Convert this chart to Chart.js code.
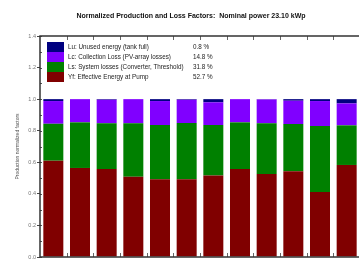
<!DOCTYPE html>
<html>
<head>
<meta charset="utf-8">
<script src="https://cdn.jsdelivr.net/npm/chart.js@4/dist/chart.umd.min.js"></script>
<style>
  html, body { margin: 0; padding: 0; background: #fff; overflow: hidden; }
  #caja { width: 380px; height: 290px; }
</style>
</head>
<body>
<div id="caja"><canvas id="factores-chart" width="380" height="290"></canvas></div>
<script>
// Meses del año
var meses = ["Jan", "Feb", "Mar", "Apr", "May", "Jun", "Jul", "Aug", "Sep", "Oct", "Nov", "Dec"];

// Factores normalizados por mes
var yf = [0.610, 0.564, 0.557, 0.509, 0.492, 0.492, 0.517, 0.557, 0.526, 0.543, 0.412, 0.583];
var ls = [0.234, 0.289, 0.290, 0.338, 0.344, 0.357, 0.319, 0.296, 0.321, 0.299, 0.418, 0.251];
var lc = [0.144, 0.147, 0.149, 0.153, 0.152, 0.147, 0.144, 0.147, 0.151, 0.148, 0.158, 0.139];
var lu = [0.012, 0.000, 0.004, 0.000, 0.012, 0.004, 0.020, 0.000, 0.002, 0.010, 0.012, 0.027];

// Textos de la leyenda y porcentajes anuales
var leyendaTextos = [
  "Lu: Unused energy (tank full)",
  "Lc: Collection Loss (PV-array losses)",
  "Ls: System losses (Converter, Threshold)",
  "Yf: Effective Energy at Pump"
];
var leyendaPorcentajes = ["0.8 %", "14.8 %", "31.8 %", "52.7 %"];
var leyendaColores = ["#000080", "#8000ff", "#008000", "#800000"];

var titulo = "Normalized Production and Loss Factors:  Nominal power 23.10 kWp";
var tituloEjeY = "Production normalized factors";
var ticksY = [0, 0.2, 0.4, 0.6, 0.8, 1.0, 1.2, 1.4];

var canvas = document.getElementById("factores-chart");
var ctx = canvas.getContext("2d");

// Dibuja marco, marcas menores, leyenda y título
var marcoPlugin = {
  id: "marco",
  afterDatasetsDraw: function (chart) {
    var c = chart.ctx;
    var a = chart.chartArea;
    var x = chart.scales.x;
    var y = chart.scales.y;
    c.save();

    // marcas menores del eje Y
    c.strokeStyle = "#555";
    c.lineWidth = 1;
    for (var k = 0; k <= 14; k++) {
      var py = Math.round(y.getPixelForValue(k / 10)) + 0.5;
      c.beginPath();
      c.moveTo(a.left, py);
      c.lineTo(a.left + 2, py);
      c.stroke();
    }

    // marcas entre meses (arriba y abajo)
    c.strokeStyle = "#666";
    for (var i = 1; i < meses.length; i++) {
      var px = Math.round((x.getPixelForValue(i - 1) + x.getPixelForValue(i)) / 2) + 0.5;
      c.beginPath();
      c.moveTo(px, a.bottom);
      c.lineTo(px, a.bottom - 4);
      c.moveTo(px, a.top);
      c.lineTo(px, a.top + 4);
      c.stroke();
    }

    // marco del gráfico
    c.strokeStyle = "#333";
    c.lineWidth = 1.5;
    c.strokeRect(a.left, a.top, a.right - a.left, a.bottom - a.top);

    // leyenda
    c.font = "6.3px 'Liberation Sans', Arial, sans-serif";
    c.textBaseline = "middle";
    c.textAlign = "left";
    for (var j = 0; j < leyendaTextos.length; j++) {
      var fy = 42 + j * 10;
      c.fillStyle = leyendaColores[j];
      c.fillRect(47, fy, 17, 10);
      c.fillStyle = "#222";
      c.fillText(leyendaTextos[j], 68, fy + 5.5);
      c.fillText(leyendaPorcentajes[j], 193, fy + 5.5);
    }

    // título
    c.font = "bold 7px 'Liberation Sans', Arial, sans-serif";
    c.textAlign = "center";
    c.fillStyle = "#111";
    c.fillText(titulo, 191, 16);
    c.restore();
  }
};

var data = {
  labels: meses,
  datasets: [
    { label: "Yf", data: yf, backgroundColor: "#800000" },
    { label: "Ls", data: ls, backgroundColor: "#008000" },
    { label: "Lc", data: lc, backgroundColor: "#8000ff" },
    { label: "Lu", data: lu, backgroundColor: "#000080" }
  ]
};

var options = {
  responsive: false,
  animation: false,
  layout: { padding: { top: 36, right: 20, left: 0, bottom: 0 } },
  datasets: { bar: { barPercentage: 0.75, categoryPercentage: 1.0 } },
  plugins: {
    legend: { display: false },
    tooltip: { enabled: false }
  },
  scales: {
    x: {
      stacked: true,
      grid: { display: false },
      border: { display: false },
      ticks: { color: "#888", font: { size: 6, family: "'Liberation Sans', Arial" }, padding: 0, maxRotation: 0 },
      afterFit: function (s) { s.height = 33; }
    },
    y: {
      stacked: true,
      min: 0,
      max: 1.4,
      afterBuildTicks: function (s) { s.ticks = ticksY.map(function (v) { return { value: v }; }); },
      grid: { drawOnChartArea: false, tickLength: 3, color: "#444" },
      border: { display: false },
      ticks: {
        color: "#777",
        padding: 1,
        font: { size: 5.5, family: "'Liberation Sans', Arial" },
        callback: function (v) { return v.toFixed(1); }
      },
      title: {
        display: true,
        text: tituloEjeY,
        color: "#555",
        font: { size: 5, family: "'Liberation Sans', Arial" },
        padding: { top: 15, bottom: 0 }
      },
      afterFit: function (s) { s.width = 40; }
    }
  }
};

var chart = new Chart(ctx, {
  type: "bar",
  data: data,
  options: options,
  plugins: [marcoPlugin]
});
</script>
</body>
</html>
